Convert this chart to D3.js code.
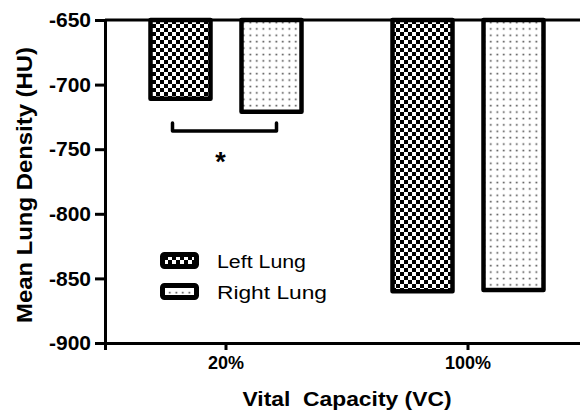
<!DOCTYPE html>
<html>
<head>
<meta charset="utf-8">
<script src="https://cdn.jsdelivr.net/npm/d3@7"></script>
<style>
  html, body { margin: 0; padding: 0; background: #fff; }
  svg { display: block; }
  text { font-family: "Liberation Sans", Arial, Helvetica, sans-serif; fill: #000; }
</style>
</head>
<body>
<div id="chart"></div>
<script>
// ---- data ----
const categories = ["20%", "100%"];
const series = ["Left Lung", "Right Lung"];
const leftLung = [-711, -860];
const rightLung = [-721, -859];
const yTicks = [-650, -700, -750, -800, -850, -900];
const yTitle = "Mean Lung Density (HU)";
const xTitle = "Vital  Capacity (VC)";
const sigLabel = "*";

const W = 580, H = 410;
const svg = d3.select("#chart").append("svg").attr("width", W).attr("height", H);

const defs = svg.append("defs");
// checker pattern
const chk = defs.append("pattern").attr("id", "checker").attr("patternUnits", "userSpaceOnUse")
  .attr("width", 8).attr("height", 8);
chk.append("rect").attr("width", 8).attr("height", 8).attr("fill", "#fff");
chk.append("rect").attr("width", 4).attr("height", 4).attr("fill", "#000");
chk.append("rect").attr("x", 4).attr("y", 4).attr("width", 4).attr("height", 4).attr("fill", "#000");
// dot pattern
const dot = defs.append("pattern").attr("id", "dots").attr("patternUnits", "userSpaceOnUse")
  .attr("width", 6.5).attr("height", 6.4);
dot.append("rect").attr("width", 6.5).attr("height", 6.4).attr("fill", "#fff");
dot.append("rect").attr("x", 2.5).attr("y", 2.5).attr("width", 1.6).attr("height", 1.6).attr("fill", "#444");

const fills = {"Left Lung": "url(#checker)", "Right Lung": "url(#dots)"};

const plotL = 105, plotR = 589;
const y = d3.scaleLinear().domain([-900, -650]).range([343, 20]);
const x = d3.scaleBand().domain(categories).range([plotL, plotR]).padding(0);
const xSub = d3.scaleBand().domain(series).range([-91, 91]).padding(0);
const barW = 60;

const rows = categories.map((c, i) => ({cat: c, vals: [
  {s: series[0], v: leftLung[i]}, {s: series[1], v: rightLung[i]}]}));

// bars
const g = svg.append("g");
rows.forEach(r => {
  r.vals.forEach(d => {
    const cx = x(r.cat) + x.bandwidth() / 2 + xSub(d.s) + xSub.bandwidth() / 2;
    g.append("rect")
      .attr("x", cx - barW / 2)
      .attr("y", y(-650))
      .attr("width", barW)
      .attr("height", y(d.v) - y(-650))
      .attr("fill", fills[d.s])
      .attr("stroke", "#000")
      .attr("stroke-width", 4.5)
      .attr("stroke-linejoin", "round");
  });
});

// top baseline at -650
svg.append("line").attr("x1", plotL).attr("x2", W).attr("y1", y(-650)).attr("y2", y(-650))
  .attr("stroke", "#000").attr("stroke-width", 3);

// y axis
const yAxis = d3.axisLeft(y).tickValues(yTicks).tickSize(10).tickPadding(4).tickFormat(d3.format("d"));
const yg = svg.append("g").attr("transform", `translate(${plotL},0)`).call(yAxis);
yg.select(".domain").attr("stroke", "#000").attr("stroke-width", 3);
yg.selectAll(".tick line").attr("stroke", "#000").attr("stroke-width", 3);
yg.selectAll(".tick text").attr("font-size", 21).attr("font-weight", "bold")
  .attr("font-family", "'Liberation Sans', Arial, sans-serif").attr("fill", "#000")
  .text(d => String(d).replace("\u2212", "-"));

// x axis
const xAxis = d3.axisBottom(x).tickSize(7).tickPadding(6);
const xg = svg.append("g").attr("transform", `translate(0,${y(-900)})`).call(xAxis);
xg.select(".domain").attr("stroke", "#000").attr("stroke-width", 3);
xg.selectAll(".tick line").attr("stroke", "#000").attr("stroke-width", 3);
xg.selectAll(".tick text").attr("font-size", 18).attr("font-weight", "bold")
  .attr("font-family", "'Liberation Sans', Arial, sans-serif").attr("fill", "#000");

// significance bracket between 20% bars
const c0 = x(categories[0]) + x.bandwidth() / 2;
const bx1 = c0 + xSub(series[0]) + xSub.bandwidth() / 2 - 8;
const bx2 = c0 + xSub(series[1]) + xSub.bandwidth() / 2 + 5;
const by = 131, byTop = 123;
svg.append("path")
  .attr("d", `M${bx1},${byTop} L${bx1},${by} L${bx2},${by} L${bx2},${byTop}`)
  .attr("fill", "none").attr("stroke", "#000").attr("stroke-width", 3.5)
  .attr("stroke-linecap", "round").attr("stroke-linejoin", "round");
svg.append("text").attr("x", (bx1 + bx2) / 2 - 4).attr("y", 171).attr("text-anchor", "middle")
  .attr("font-size", 27).attr("font-weight", "bold").text(sigLabel);

// legend
const lg = svg.append("g").attr("transform", "translate(160,252)");
series.forEach((s, i) => {
  const row = lg.append("g").attr("transform", `translate(0,${i * 31})`);
  row.append("rect").attr("x", 2.5).attr("y", 2.5).attr("width", 34).attr("height", 12)
    .attr("rx", 2).attr("fill", fills[s]).attr("stroke", "#000").attr("stroke-width", 5);
  row.append("text").attr("x", 57).attr("y", 16).attr("font-size", 18)
    .attr("textLength", s === "Left Lung" ? 89 : 110).attr("lengthAdjust", "spacingAndGlyphs")
    .text(s);
});

// axis titles
svg.append("text").attr("transform", `translate(32,185) rotate(-90)`)
  .attr("text-anchor", "middle").attr("font-size", 22).attr("font-weight", "bold")
  .attr("textLength", 276).attr("lengthAdjust", "spacingAndGlyphs")
  .text(yTitle);
svg.append("text").attr("x", 347).attr("y", 406)
  .attr("text-anchor", "middle").attr("font-size", 20).attr("font-weight", "bold")
  .attr("style", "white-space: pre")
  .attr("textLength", 209).attr("lengthAdjust", "spacingAndGlyphs")
  .text(xTitle);
</script>
</body>
</html>
